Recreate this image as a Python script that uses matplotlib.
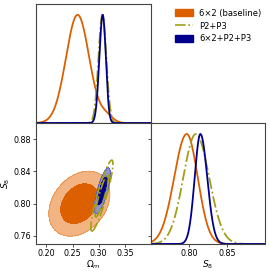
import numpy as np
import matplotlib.pyplot as plt
from matplotlib.patches import Patch
from matplotlib.lines import Line2D

# valores: pico, sigma à esquerda, sigma à direita
nomes = ['6×2 (baseline)', 'P2+P3', '6×2+P2+P3']
cores = ['#dc6000', '#a0a018', '#00008c']
cores_claras = ['#f2b483', None, '#9090d2']

om_pico = [0.2596, 0.307, 0.3077]
om_sig_esq = [0.0222, 0.0075, 0.0065]
om_sig_dir = [0.0222, 0.0075, 0.0059]
# ombro da cauda direita do baseline em Omega_m (peso, centro, sigma)
ombro_om = [0.06, 0.315, 0.012]

s8_pico = [0.7970, 0.8090, 0.8150]
s8_sig_esq = [0.0165, 0.0165, 0.0075]
s8_sig_dir = [0.0145, 0.0175, 0.0090]

# contornos 2D (centro, sigmas, correlação)
c_om = [0.263, 0.306, 0.307]
c_s8 = [0.800, 0.810, 0.816]
c_som = [0.0235, 0.0085, 0.0061]
c_ss8 = [0.0162, 0.0177, 0.0115]
c_rho = [0.30, 0.90, 0.75]

om_ticks = [0.20, 0.25, 0.30, 0.35]
s8_ticks = [0.76, 0.80, 0.84, 0.88]
s8_ticks_x = [0.80, 0.85]

om_lim = (0.18, 0.40)
s8_lim = (0.75, 0.90)


def assimetrica(x, pico, se, sd):
    s = np.where(x < pico, se, sd)
    return np.exp(-0.5*((x-pico)/s)**2)


fig = plt.figure(figsize=(2.70, 2.71), dpi=100)
L, M, R = 36/270, 151/270, 265/270
T, H, B = 1-4/271, 1-123/271, 1-244/271

ax_om = fig.add_axes([L, H, M-L, T-H])
ax_2d = fig.add_axes([L, B, M-L, H-B])
ax_s8 = fig.add_axes([M, B, R-M, H-B])

estilos = ['-', '-.', '-']

xo = np.linspace(om_lim[0], om_lim[1], 800)
xs = np.linspace(s8_lim[0], s8_lim[1], 800)
for i in range(3):
    po = assimetrica(xo, om_pico[i], om_sig_esq[i], om_sig_dir[i])
    if i == 0:
        w, c, s = ombro_om
        po = po + w*np.exp(-0.5*((xo-c)/s)**2)
    po = po/po.max()
    ps = assimetrica(xs, s8_pico[i], s8_sig_esq[i], s8_sig_dir[i])
    ax_om.plot(xo, po, color=cores[i], ls=estilos[i], lw=1.3)
    ax_s8.plot(xs, ps, color=cores[i], ls=estilos[i], lw=1.3)

# contornos 68% e 95%
gx, gy = np.meshgrid(np.linspace(0.17, 0.41, 400), np.linspace(0.70, 0.95, 400))
niveis = [np.exp(-6.18/2), np.exp(-2.30/2)]
for i in [0, 2, 1]:
    dx = (gx-c_om[i])/c_som[i]
    dy = (gy-c_s8[i])/c_ss8[i]
    r = c_rho[i]
    z = np.exp(-(dx**2 - 2*r*dx*dy + dy**2)/(2*(1-r**2)))
    if cores_claras[i] is None:
        ax_2d.contour(gx, gy, z, levels=niveis, colors=cores[i],
                      linestyles='-.', linewidths=1.2)
    else:
        ax_2d.contourf(gx, gy, z, levels=[niveis[0], niveis[1], 2],
                       colors=[cores_claras[i], cores[i]])
        ax_2d.contour(gx, gy, z, levels=niveis, colors=cores[i],
                      linewidths=0.5, alpha=0.5)

ax_om.set_xlim(om_lim)
ax_om.set_ylim(0, 1.1)
ax_om.set_xticks(om_ticks)
ax_om.set_xticklabels([])
ax_om.set_yticks([])

ax_2d.set_xlim(om_lim)
ax_2d.set_ylim(s8_lim)
ax_2d.set_xticks(om_ticks)
ax_2d.set_yticks(s8_ticks)
ax_2d.set_xticklabels(['%.2f' % t for t in om_ticks])
ax_2d.set_yticklabels(['%.2f' % t for t in s8_ticks])
ax_2d.set_xlabel(r'$\Omega_m$', fontsize=6.5, labelpad=1)
ax_2d.set_ylabel(r'$S_8$', fontsize=6.5, labelpad=1)

ax_s8.set_xlim(s8_lim)
ax_s8.set_ylim(0, 1.1)
ax_s8.set_xticks(s8_ticks_x)
ax_s8.set_xticklabels(['%.2f' % t for t in s8_ticks_x])
ax_s8.set_yticks([(t-s8_lim[0])/(s8_lim[1]-s8_lim[0])*1.1 for t in s8_ticks])
ax_s8.set_yticklabels([])
ax_s8.set_xlabel(r'$S_8$', fontsize=6.5, labelpad=1)

for ax in [ax_om, ax_2d, ax_s8]:
    ax.tick_params(labelsize=5.8, length=2.5, width=0.6, pad=0.8, color='#333333')
    for s in ax.spines.values():
        s.set_linewidth(0.8)
        s.set_color('#444444')

handles = [Patch(color=cores[0]),
           Line2D([0], [0], color=cores[1], ls='-.', lw=1.2),
           Patch(color=cores[2])]
fig.legend(handles, nomes, loc='upper left', bbox_to_anchor=(0.635, 0.98),
           frameon=False, fontsize=6, handlelength=2.2, handleheight=0.9,
           labelspacing=0.45, handletextpad=0.7, borderaxespad=0)

fig.savefig('out.png', dpi=100)
